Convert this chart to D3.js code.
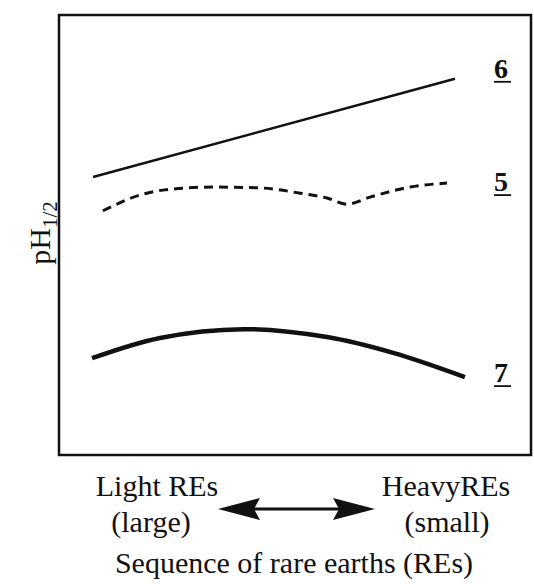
<!DOCTYPE html>
<html><head><meta charset="utf-8">
<script src="https://cdn.jsdelivr.net/npm/d3@7/dist/d3.min.js"></script>
<style>body{margin:0;background:#fff}svg{display:block}text{font-family:"Liberation Serif","Times New Roman","DejaVu Serif",serif;fill:#111}</style>
</head><body><svg id="c" width="534" height="584"></svg>
<script>
// Positions along the RE sequence (0 = light, 100 = heavy), relative pH1/2 (0-100)
const series6 = [[7.2,63.2],[83.9,85.5]];
const series5 = [[9.3,55.5],[17.2,59.1],[22.0,60.2],[32.6,60.9],[42.6,60.7],[51.1,59.5],[56.8,58.4],[61.0,57.0],[65.9,58.6],[74.4,60.9],[82.2,61.8]];
const series7 = [[7.0,22.0],[21.4,26.6],[39.0,28.6],[56.8,26.8],[70.8,23.2],[86.0,17.7]];
const seriesLabels = ["6","5","7"];
const leftLabels = ["Light REs","(large)"];
const rightLabels = ["HeavyREs","(small)"];
const xTitle = "Sequence of rare earths (REs)";

const FONT = '"Liberation Serif","Times New Roman","DejaVu Serif",serif';
const svg = d3.select("#c");
const L=59,R=531,T=15,B=455;
const x = d3.scaleLinear().domain([0,100]).range([L,R]);
const y = d3.scaleLinear().domain([0,100]).range([B,T]);

svg.append("rect").attr("x",L).attr("y",T).attr("width",R-L).attr("height",B-T)
  .attr("fill","none").attr("stroke","#111").attr("stroke-width",2.5);

const line = d3.line().x(d=>x(d[0])).y(d=>y(d[1]));
svg.append("path").datum(series6).attr("d",line).attr("fill","none").attr("stroke","#111").attr("stroke-width",2.5);
svg.append("path").datum(series5).attr("d",d3.line().x(d=>x(d[0])).y(d=>y(d[1])).curve(d3.curveMonotoneX)).attr("fill","none").attr("stroke","#111").attr("stroke-width",3).attr("stroke-dasharray","9,6");
svg.append("path").datum(series7).attr("d",d3.line().x(d=>x(d[0])).y(d=>y(d[1])).curve(d3.curveCatmullRom)).attr("fill","none").attr("stroke","#111").attr("stroke-width",4.5);

// series labels
const labY = [series6[series6.length-1][1], series5[series5.length-1][1], series7[series7.length-1][1]];
const labOff = [-1, 8, 5];
seriesLabels.forEach((s,i)=>{
  const ty = y(labY[i]) + labOff[i];
  svg.append("text").attr("x",501).attr("y",ty).attr("text-anchor","middle").attr("font-family",FONT)
    .attr("font-size",28).attr("font-weight","bold").text(s);
  svg.append("line").attr("x1",494).attr("x2",511).attr("y1",ty+4).attr("y2",ty+4)
    .attr("stroke","#111").attr("stroke-width",1.8);
});

// y title
const yt = svg.append("text").attr("transform","translate(50,233) rotate(-90)").attr("font-family",FONT)
  .attr("text-anchor","middle").attr("font-size",30);
yt.append("tspan").text("pH");
yt.append("tspan").attr("font-size",21).attr("dy",7).text("1/2");

// bottom labels
leftLabels.forEach((s,i)=>svg.append("text").attr("x",i?151:157).attr("y",i?532:496).attr("text-anchor","middle").attr("font-family",FONT).attr("font-size",30).text(s));
rightLabels.forEach((s,i)=>svg.append("text").attr("x",i?447:446).attr("y",i?532:496).attr("text-anchor","middle").attr("font-family",FONT).attr("font-size",30).text(s));
svg.append("text").attr("x",294).attr("y",573).attr("text-anchor","middle").attr("font-family",FONT).attr("font-size",30).text(xTitle);

// double arrow
const ax1=218, ax2=375, ay=509;
svg.append("line").attr("x1",ax1+30).attr("x2",ax2-30).attr("y1",ay).attr("y2",ay).attr("stroke","#111").attr("stroke-width",3);
const head = (tip,dir)=>{
  const p = d3.path();
  p.moveTo(tip,ay);
  p.lineTo(tip+dir*42,ay-11);
  p.lineTo(tip+dir*36,ay);
  p.lineTo(tip+dir*42,ay+11);
  p.closePath();
  svg.append("path").attr("d",p.toString()).attr("fill","#111");
};
head(ax1,1); head(ax2,-1);
</script></body></html>
